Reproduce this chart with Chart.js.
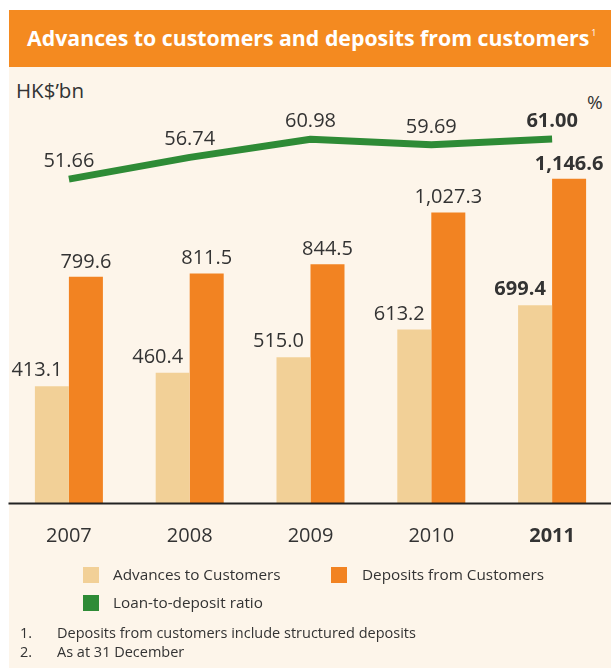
<!DOCTYPE html>
<html>
<head>
<meta charset="utf-8">
<script src="https://cdn.jsdelivr.net/npm/chart.js@4.4.1/dist/chart.umd.min.js"></script>
<style>
  html, body { margin: 0; padding: 0; background: #fff; width: 611px; height: 669px; overflow: hidden; font-family: "Open Sans", sans-serif; }
  #header { position: absolute; left: 9px; top: 10px; width: 602px; height: 57px; background: #f48a20; }
  #header span { position: absolute; left: 18px; top: 13px; color: #fff; font-weight: bold; font-size: 21.3px; white-space: nowrap; }
  #header sup { font-size: 9px; font-weight: normal; vertical-align: 10px; margin-left: 2px; }
  #panel { position: absolute; left: 9px; top: 67px; width: 602px; height: 601px; background: #fdf5ea; }
  #wrap { position: absolute; left: 0; top: 0; width: 620px; height: 669px; }
  .txt { position: absolute; color: #333; white-space: nowrap; }
  .sw { position: absolute; width: 16px; height: 16px; }
  .lg { font-size: 15.3px; }
  .fn { font-size: 14.5px; }
</style>
</head>
<body>
<div id="header"><span>Advances to customers and deposits from customers<sup>1</sup></span></div>
<div id="panel"></div>
<div class="txt" style="left:16px; top:76px; font-size:20.5px;">HK$’bn</div>
<div class="txt" style="left:587px; top:89px; font-size:19px;">%</div>
<div id="wrap"><canvas id="chart" width="620" height="669"></canvas></div>
<div class="sw" style="left:83px; top:567px; background:#f2d097;"></div>
<div class="txt lg" style="left:113px; top:564px;">Advances to Customers</div>
<div class="sw" style="left:331px; top:567px; background:#f28322;"></div>
<div class="txt lg" style="left:362px; top:564px;">Deposits from Customers</div>
<div class="sw" style="left:83px; top:595px; background:#2e8b36;"></div>
<div class="txt lg" style="left:113px; top:592px;">Loan-to-deposit ratio</div>
<div class="txt fn" style="left:20px; top:623px;">1.</div>
<div class="txt fn" style="left:57px; top:623px;">Deposits from customers include structured deposits</div>
<div class="txt fn" style="left:20px; top:642px;">2.</div>
<div class="txt fn" style="left:57px; top:642px;">As at 31 December</div>
<script>
var years = ['2007', '2008', '2009', '2010', '2011'];
var advances = [413.1, 460.4, 515.0, 613.2, 699.4];
var deposits = [799.6, 811.5, 844.5, 1027.3, 1146.6];
var ratio = [51.66, 56.74, 60.98, 59.69, 61.00];

var fmt = function (v, digits) {
    return v.toLocaleString('en-US', { minimumFractionDigits: digits, maximumFractionDigits: digits });
};

var labelsPlugin = {
    id: 'labels',
    afterDraw: function (chart) {
        var ctx = chart.ctx;
        var area = chart.chartArea;
        var last = years.length - 1;
        var font = function (i) {
            return (i === last ? 'bold ' : '') + '20px "Open Sans"';
        };

        // baseline
        ctx.save();
        ctx.strokeStyle = '#222';
        ctx.lineWidth = 2;
        ctx.beginPath();
        ctx.moveTo(area.left, area.bottom + 0.5);
        ctx.lineTo(area.right, area.bottom + 0.5);
        ctx.stroke();

        ctx.fillStyle = '#333';
        ctx.textAlign = 'center';
        ctx.textBaseline = 'alphabetic';

        var adv = chart.getDatasetMeta(0).data;
        var dep = chart.getDatasetMeta(1).data;
        var rat = chart.getDatasetMeta(2).data;
        var x = chart.scales.x;

        years.forEach(function (y, i) {
            ctx.font = font(i);
            ctx.fillText(fmt(advances[i], 1), adv[i].x - 15, adv[i].y - 10);
            ctx.fillText(fmt(deposits[i], 1), dep[i].x, dep[i].y - 9);
            ctx.fillText(fmt(ratio[i], 2), rat[i].x, rat[i].y - 12);
            ctx.fillText(y, x.getPixelForValue(i), 542);
        });
        ctx.restore();
    }
};

var ctx = document.getElementById('chart').getContext('2d');
var myChart = new Chart(ctx, {
    data: {
        labels: years,
        datasets: [{
            type: 'bar',
            label: 'Advances to Customers',
            data: advances,
            backgroundColor: '#f2d097',
            yAxisID: 'y',
            order: 1
        }, {
            type: 'bar',
            label: 'Deposits from Customers',
            data: deposits,
            backgroundColor: '#f28322',
            yAxisID: 'y',
            order: 1
        }, {
            type: 'line',
            label: 'Loan-to-deposit ratio',
            data: ratio,
            borderColor: '#2e8b36',
            borderWidth: 7,
            borderCapStyle: 'butt',
            borderJoinStyle: 'round',
            pointRadius: 0,
            tension: 0,
            yAxisID: 'y2',
            order: 0
        }]
    },
    options: {
        responsive: false,
        animation: false,
        events: [],
        datasets: {
            bar: { categoryPercentage: 0.563, barPercentage: 1.0 }
        },
        layout: {
            padding: { left: 8.5, right: 7.5, top: 107, bottom: 166 }
        },
        plugins: {
            legend: { display: false },
            tooltip: { enabled: false }
        },
        scales: {
            x: { display: false, offset: true },
            y: { display: false, min: 0, max: 1400 },
            y2: { display: false, min: -24, max: 68.5 }
        }
    },
    plugins: [labelsPlugin]
});
</script>
</body>
</html>
